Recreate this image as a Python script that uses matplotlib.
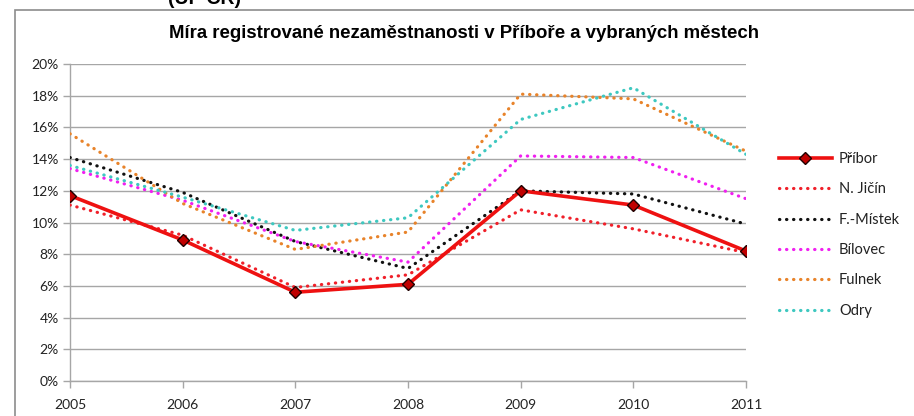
import matplotlib
matplotlib.use("Agg")
import matplotlib.pyplot as plt
from matplotlib.patches import Rectangle
from matplotlib.ticker import PercentFormatter, FixedLocator

years = [2005, 2006, 2007, 2008, 2009, 2010, 2011]
pribor = [11.7, 8.9, 5.6, 6.1, 12.0, 11.1, 8.2]
n_jicin = [11.1, 9.2, 5.9, 6.7, 10.8, 9.6, 8.1]
f_mistek = [14.1, 11.9, 8.8, 7.1, 12.0, 11.8, 9.9]
bilovec = [13.4, 11.4, 8.8, 7.5, 14.2, 14.1, 11.5]
fulnek = [15.6, 11.2, 8.3, 9.4, 18.1, 17.8, 14.5]
odry = [13.6, 11.6, 9.5, 10.3, 16.5, 18.5, 14.3]
names = ["Příbor", "N. Jičín", "F.-Místek", "Bílovec", "Fulnek", "Odry"]
title = "Míra registrované nezaměstnanosti v Příboře a vybraných městech"
yticks = [0, 2, 4, 6, 8, 10, 12, 14, 16, 18, 20]

fig = plt.figure(figsize=(9.14, 4.16), dpi=100)
fig.patch.set_facecolor("white")
ax = fig.add_axes([70/914, 1-381/416, (746-70)/914, (381-64)/416])

dotted = [
    (n_jicin, "#F0202A"),
    (f_mistek, "#111111"),
    (bilovec, "#F020F0"),
    (fulnek, "#E8832A"),
    (odry, "#3EC8C0"),
]
handles = []
ph, = ax.plot(years, pribor, color="#EE1111", lw=2.6, marker="D", ms=6,
              mfc="#C00000", mec="#200000", mew=1.0, zorder=5, label=names[0])
handles.append(ph)
for (vals, col), nm in zip(dotted, names[1:]):
    h, = ax.plot(years, vals, color=col, lw=2.3, linestyle=(0, (0.1, 2.1)),
                 dash_capstyle="round", zorder=3, label=nm)
    handles.append(h)

ax.set_xlim(2005, 2011)
ax.set_ylim(0, 20)
ax.yaxis.set_major_locator(FixedLocator(yticks))
ax.yaxis.set_major_formatter(PercentFormatter(decimals=0))
ax.set_xticks(years)
ax.grid(axis="y", color="#A6A6A6", lw=1.0)
ax.set_axisbelow(True)
for s in ["top", "right"]:
    ax.spines[s].set_visible(False)
for s in ["left", "bottom"]:
    ax.spines[s].set_color("#A6A6A6")
    ax.spines[s].set_linewidth(1.0)
ax.tick_params(axis="both", colors="#A6A6A6", length=5, width=1.0,
               labelcolor="#222222", labelsize=10)
ax.tick_params(axis="x", pad=8)
ax.tick_params(axis="y", pad=3)
for lab in ax.get_xticklabels() + ax.get_yticklabels():
    lab.set_fontfamily(["Lato", "DejaVu Sans"])

leg = fig.legend(handles=handles, loc="upper left",
                 bbox_to_anchor=(766/914, 1-139/416), frameon=False,
                 handlelength=3.6, handletextpad=0.5, labelspacing=1.12,
                 prop={"family": ["Lato", "DejaVu Sans"], "size": 10.5})
for t in leg.get_texts():
    t.set_color("#222222")

fig.text(464/914, 1-33/416, title, ha="center", va="center",
         fontsize=13.4, fontweight="bold",
         family=["Liberation Sans Narrow", "Liberation Sans", "DejaVu Sans"])

fig.text(168/914, 1-4/416, "(ÚP ČR)", ha="left", va="baseline",
         fontsize=14, fontweight="bold", family=["Liberation Sans", "DejaVu Sans"])

fig.patches.append(Rectangle((15/914, -0.1), 1.0, (1-10/416)+0.1,
                             transform=fig.transFigure, fill=False,
                             edgecolor="#8C8C8C", lw=1.2))

fig.savefig("out.png", dpi=100)
